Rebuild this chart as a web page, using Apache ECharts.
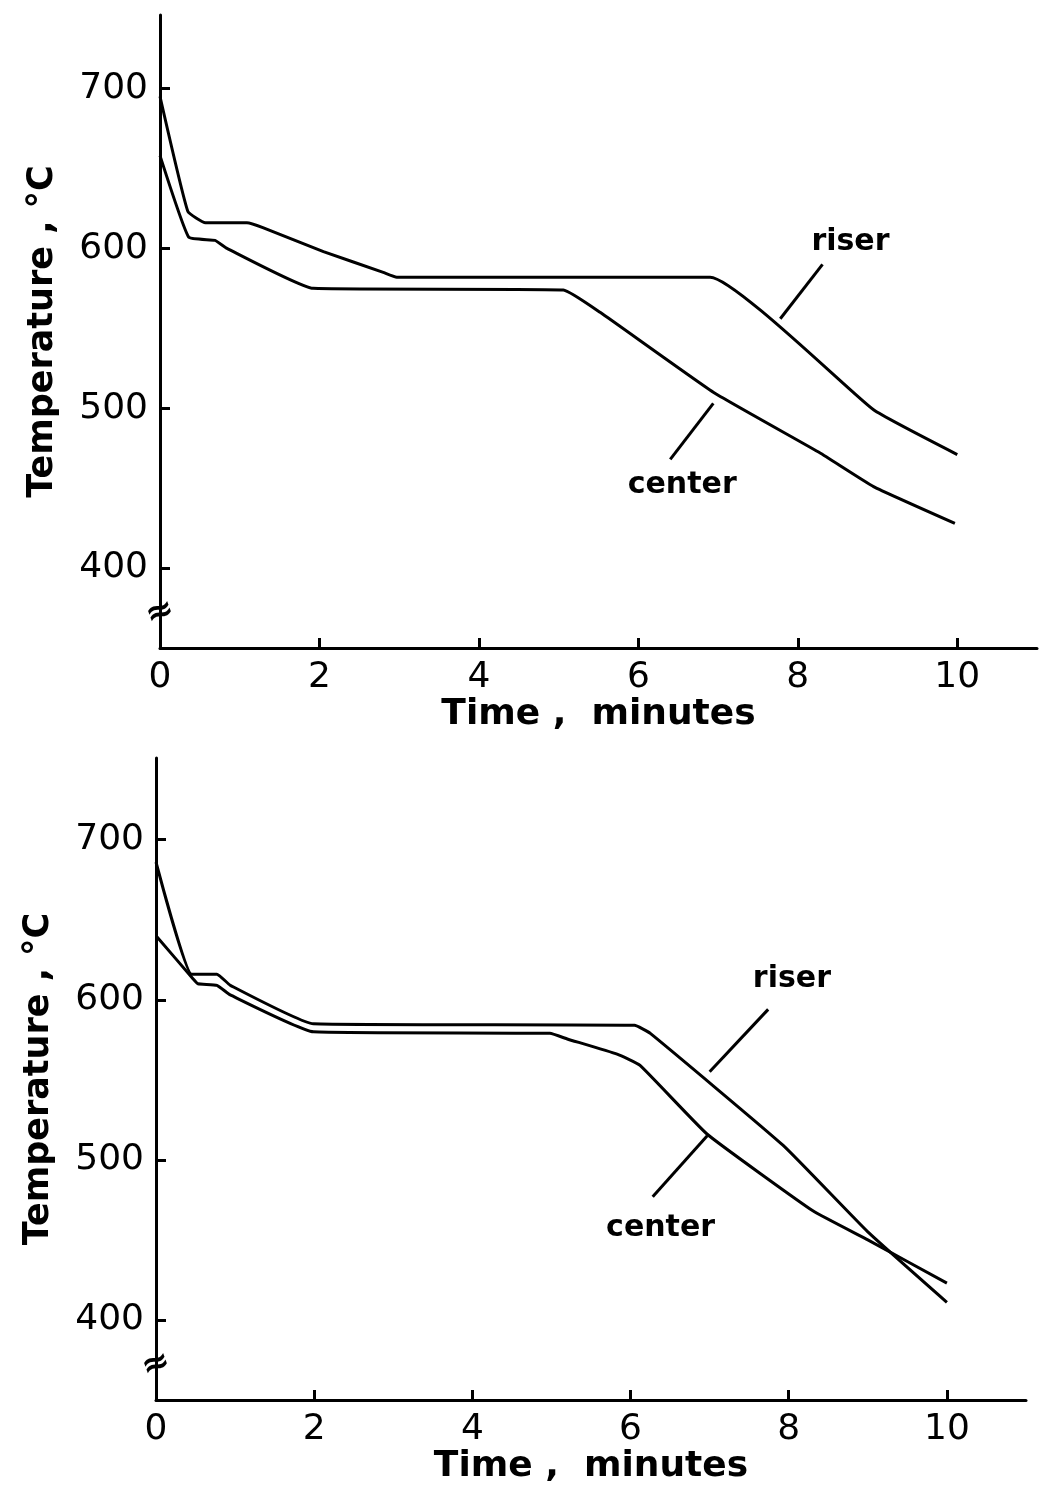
<!DOCTYPE html>
<html>
	<head>
		<meta charset="utf-8">
		<title>Temperature vs time, riser and center</title>
		<script src="https://cdn.jsdelivr.net/npm/echarts@6.0.0/dist/echarts.min.js" type="text/javascript" charset="utf-8"></script>
		<style>
			html,body{margin:0;padding:0;background:#fff;}
			#chart{width:1045px;height:1490px;}
		</style>
	</head>
	<body>
		<div id="chart"></div>
		<script type="text/javascript">
			// 上图 (top panel)
			var topRiserTime = [0, 0.35, 0.57, 1.09, 1.29, 2.05, 2.8, 2.97, 6.9, 8.95, 10];
			var topRiserTemp = [695, 623, 616, 616, 613, 598, 585, 582, 582, 499, 471];
			var topCenterTime = [0, 0.36, 0.69, 0.84, 1.92, 5.06, 5.52, 6.94, 8.28, 8.95, 9.97];
			var topCenterTemp = [658, 607, 605, 600, 575, 574, 560, 510, 472, 451, 428];
			// 下图 (bottom panel)
			var botRiserTime = [0, 0.45, 0.77, 0.94, 1.99, 6.05, 6.25, 7.93, 9.0, 10];
			var botRiserTemp = [686, 616, 616, 609, 585, 584, 579, 509, 455, 411];
			var botCenterTime = [0, 0.47, 0.53, 0.77, 0.94, 1.99, 4.98, 5.2, 5.83, 6.12, 6.97, 8.31, 9.0, 10];
			var botCenterTemp = [640, 613, 610, 609, 603, 580, 579, 575.5, 566, 559, 516, 468, 450, 423];

			var timeTicks = [0, 2, 4, 6, 8, 10];
			var tempTicks = [400, 500, 600, 700];

			// annotation anchors (data coords): text, leader start, leader end
			var topRiserNote = [[8.66, 604], [8.31, 590], [7.78, 556]];
			var topCenterNote = [[6.55, 452], [6.94, 503], [6.40, 468]];
			var botRiserNote = [[8.04, 613], [7.74, 594], [7.00, 555]];
			var botCenterNote = [[6.38, 457], [6.97, 515], [6.28, 477]];
			var breakAt = [0, 372];

			function pairs(xs, ys){
				var out = [];
				for(var i = 0; i < xs.length; i++){
					out.push([xs[i], ys[i]]);
				}
				return out;
			}

			var ink = '#000';
			var tickFont = {color: ink, fontSize: 36, fontFamily: 'DejaVu Sans'};
			var nameFont = {color: ink, fontSize: 35, fontWeight: 'bold', fontFamily: 'DejaVu Sans'};

			function xAxisCfg(grid){
				return {
					type: 'value', gridIndex: grid, min: 0, max: 11,
					name: 'Time ,  minutes', nameLocation: 'middle', nameGap: 46,
					nameTextStyle: {color: ink, fontSize: 36, fontWeight: 'bold', fontFamily: 'DejaVu Sans'},
					axisLine: {show: true, onZero: false, lineStyle: {color: ink, width: 3}},
					axisTick: {show: true, inside: true, length: 10, customValues: timeTicks, lineStyle: {color: ink, width: 3}},
					axisLabel: Object.assign({margin: 12, customValues: timeTicks}, tickFont),
					splitLine: {show: false}
				};
			}
			function yAxisCfg(grid, max){
				return {
					type: 'value', gridIndex: grid, min: 350, max: max,
					name: 'Temperature , °C', nameLocation: 'middle', nameGap: 100,
					nameTextStyle: nameFont,
					axisLine: {show: true, onZero: false, lineStyle: {color: ink, width: 3}},
					axisTick: {show: true, inside: true, length: 10, customValues: tempTicks, lineStyle: {color: ink, width: 3}},
					axisLabel: Object.assign({margin: 12, customValues: tempTicks}, tickFont),
					splitLine: {show: false}
				};
			}

			function note(text, n){
				return {
					markPoint: {
						silent: true, symbol: 'circle', symbolSize: 0, animation: false,
						label: {show: true, position: 'inside', formatter: text, color: ink, fontSize: 30, fontWeight: 'bold', fontFamily: 'DejaVu Sans'},
						data: [{coord: n[0]}]
					},
					markLine: {
						silent: true, symbol: ['none', 'none'], animation: false,
						label: {show: false},
						lineStyle: {color: ink, width: 3, type: 'solid'},
						data: [[{coord: n[1]}, {coord: n[2]}]]
					}
				};
			}

			function curve(name, grid, data, n, withBreak){
				var s = {
					name: name, type: 'line', xAxisIndex: grid, yAxisIndex: grid,
					data: data, showSymbol: false, smooth: 0.12,
					lineStyle: {color: ink, width: 3}, silent: true
				};
				var m = note(name, n);
				s.markLine = m.markLine;
				s.markPoint = m.markPoint;
				if(withBreak){
					s.markPoint.data.push({
						coord: breakAt,
						label: {formatter: '≈', fontSize: 34, fontWeight: 'bold', rotate: 20}
					});
				}
				return s;
			}

			var myChart = echarts.init(document.getElementById('chart'), null, {renderer: 'canvas'});
			var option = {
				animation: false,
				backgroundColor: '#fff',
				grid: [
					{left: 160, top: 15, width: 877, height: 633},
					{left: 156, top: 758, width: 870, height: 642}
				],
				xAxis: [xAxisCfg(0), xAxisCfg(1)],
				yAxis: [yAxisCfg(0, 746), yAxisCfg(1, 751)],
				series: [
					curve('riser', 0, pairs(topRiserTime, topRiserTemp), topRiserNote, true),
					curve('center', 0, pairs(topCenterTime, topCenterTemp), topCenterNote, false),
					curve('riser', 1, pairs(botRiserTime, botRiserTemp), botRiserNote, true),
					curve('center', 1, pairs(botCenterTime, botCenterTemp), botCenterNote, false)
				]
			};
			myChart.setOption(option);
		</script>
	</body>
</html>
